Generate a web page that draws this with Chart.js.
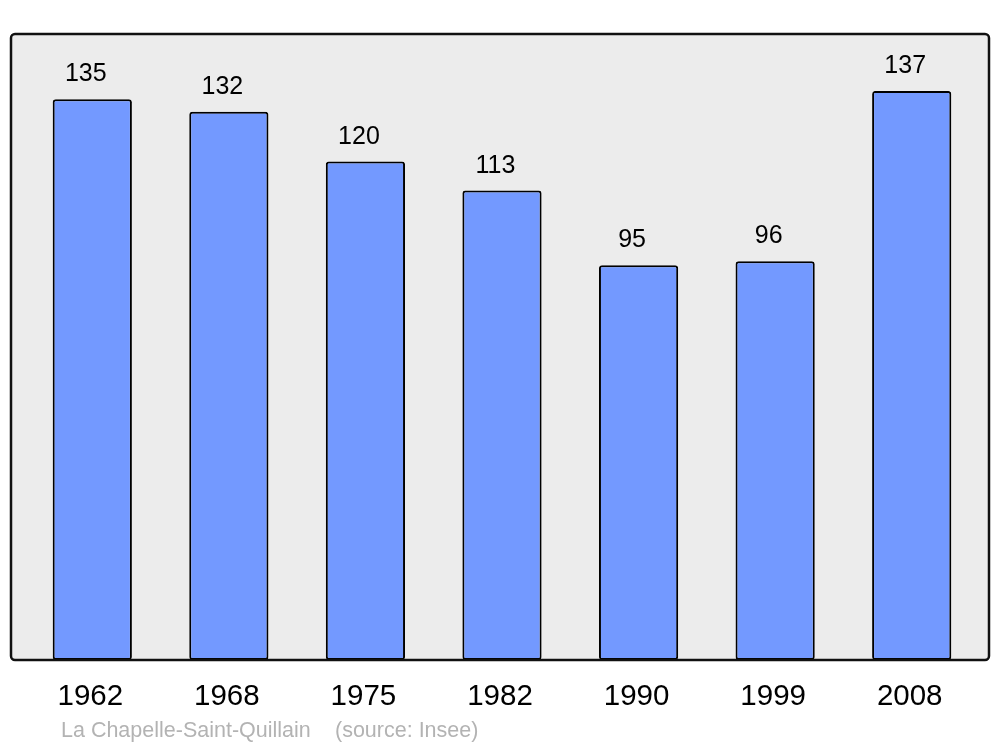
<!DOCTYPE html>
<html>
<head>
<meta charset="utf-8">
<script src="https://cdn.jsdelivr.net/npm/chart.js@4"></script>
<style>
  html, body { margin: 0; padding: 0; background: #fff; }
  #wrap { width: 1000px; height: 747px; }
</style>
</head>
<body>
<div id="wrap"><canvas id="chartPopulation" width="1000" height="747"></canvas></div>
<script>
var annees = ["1962", "1968", "1975", "1982", "1990", "1999", "2008"];
var population = [135, 132, 120, 113, 95, 96, 137];
var titreBas = "La Chapelle-Saint-Quillain";
var sourceBas = "(source: Insee)";

// fond gris + cadre noir autour de la zone du graphique
var cadrePlugin = {
    id: 'cadre',
    beforeDatasetsDraw: function (chart) {
        var ctx = chart.ctx;
        var a = chart.chartArea;
        ctx.save();
        ctx.beginPath();
        ctx.roundRect(11, 34, 978, a.bottom - 34, 4);
        ctx.fillStyle = '#ececec';
        ctx.fill();
        ctx.restore();
    },
    afterDatasetsDraw: function (chart) {
        var ctx = chart.ctx;
        var a = chart.chartArea;
        ctx.save();
        ctx.beginPath();
        ctx.roundRect(11, 34, 978, a.bottom - 34, 4);
        ctx.lineWidth = 2.5;
        ctx.strokeStyle = '#111';
        ctx.stroke();

        // valeurs au-dessus des barres
        var meta = chart.getDatasetMeta(0);
        ctx.font = '25px "Liberation Sans", Arial, sans-serif';
        ctx.fillStyle = '#000';
        ctx.textAlign = 'center';
        ctx.textBaseline = 'alphabetic';
        for (var i = 0; i < meta.data.length; i++) {
            var bar = meta.data[i];
            ctx.fillText(String(population[i]), bar.x - 6.5, bar.y - 18);
        }

        // texte du bas
        ctx.font = '21.5px "Liberation Sans", Arial, sans-serif';
        ctx.fillStyle = '#b3b3b3';
        ctx.textAlign = 'left';
        ctx.fillText(titreBas, 61, 737);
        ctx.fillText(sourceBas, 335, 737);
        ctx.restore();
    }
};

var ctx1 = document.getElementById('chartPopulation').getContext('2d');
var chartPopulation = new Chart(ctx1, {
    type: 'bar',
    data: {
        labels: annees,
        datasets: [{
            label: 'Population',
            data: population,
            backgroundColor: '#7399ff',
            borderColor: '#000',
            borderWidth: 2,
            borderRadius: 3,
            borderSkipped: false,
            barPercentage: 0.58,
            categoryPercentage: 1
        }]
    },
    options: {
        responsive: false,
        animation: false,
        layout: {
            padding: { top: 34, left: 24, right: 20, bottom: 27 }
        },
        plugins: {
            legend: { display: false },
            tooltip: { enabled: false }
        },
        scales: {
            x: {
                grid: { display: false, drawTicks: false },
                border: { display: false },
                ticks: {
                    color: '#000',
                    padding: 19,
                    labelOffset: -2,
                    font: { family: '"Liberation Sans", Arial, sans-serif', size: 29.5 }
                },
                afterFit: function (scale) { scale.height = 60; }
            },
            y: {
                display: false,
                min: 0,
                max: 150.7
            }
        }
    },
    plugins: [cadrePlugin]
});
</script>
</body>
</html>
